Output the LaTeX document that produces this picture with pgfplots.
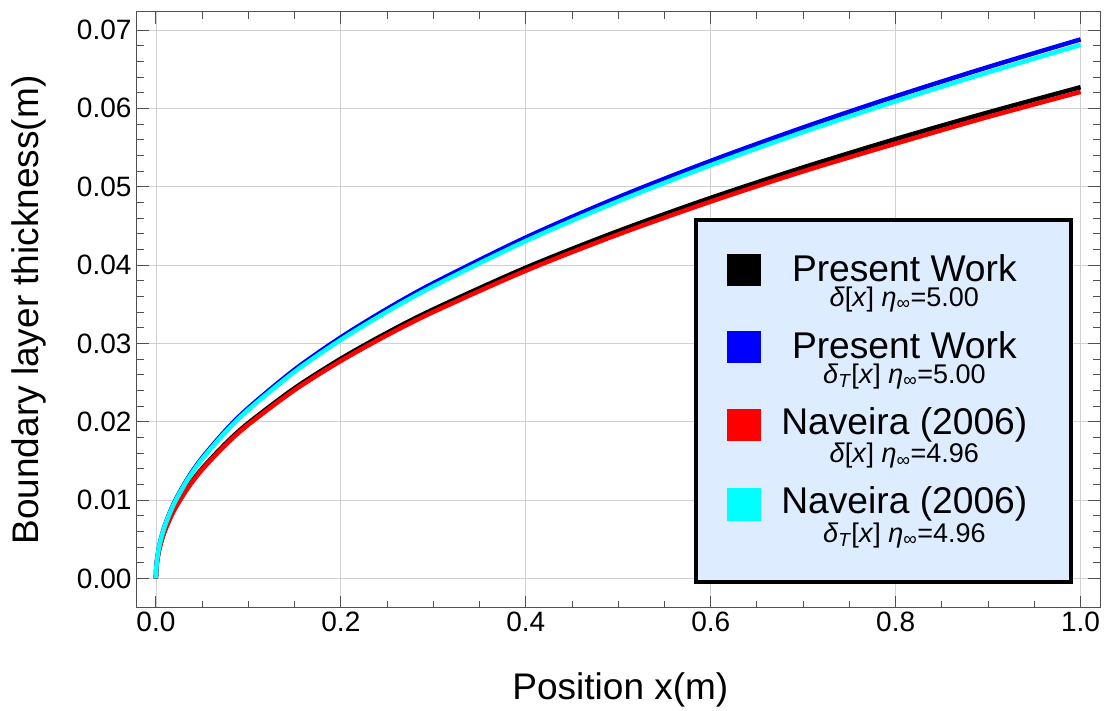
\documentclass[border=0pt]{standalone}
\usepackage{pgfplots}
\pgfplotsset{compat=1.18}
\usepackage{fontspec}
\setmainfont{Liberation Sans}
\definecolor{legbg}{RGB}{221,236,255}
\definecolor{gridc}{RGB}{208,208,208}
\definecolor{framec}{RGB}{80,80,80}
\definecolor{cyanc}{RGB}{0,255,255}
% legend entry: big title line plus small formula line
\newcommand{\entry}[3]{\parbox{272pt}{\centering\fontsize{37.2}{38}\selectfont #1\\
  \fontsize{27}{25}\selectfont #2[\textit{x}] \textit{η}\textsubscript{∞}=#3}}
\begin{document}
\begin{tikzpicture}
\begin{axis}[
  scale only axis, width=963pt, height=596pt,
  xmin=-0.0205, xmax=1.021, ymin=-0.00378, ymax=0.0723,
  xtick={0,0.2,0.4,0.6,0.8,1.0},
  ytick={0,0.01,0.02,0.03,0.04,0.05,0.06,0.07},
  minor x tick num=3, minor y tick num=4,
  major tick length=12pt, minor tick length=7pt,
  tick align=inside,
  scaled y ticks=false, scaled x ticks=false,
  grid=major, major grid style={gridc, line width=0.8pt},
  axis line style={framec, line width=1pt},
  tick style={framec, line width=1pt},
  /pgf/number format/assume math mode=true,
  xticklabel style={/pgf/number format/.cd, fixed, fixed zerofill, precision=1},
  yticklabel style={xshift=-2pt, /pgf/number format/.cd, fixed, fixed zerofill, precision=2},
  tick label style={font=\fontsize{28}{30}\selectfont},
  xlabel={Position x(m)}, ylabel={Boundary layer thickness(m)},
  label style={font=\fontsize{37}{40}\selectfont},
  xlabel style={at={(axis description cs:0.502,-0.138)}, anchor=center},
  ylabel style={at={(axis description cs:-0.112,0.5)}, anchor=center},
  legend image code/.code={\path (0pt,-27pt); \fill[#1] (0pt,-1pt) rectangle (30pt,27pt);},
  legend cell align=center,
  legend style={at={(0.972,0.0407)}, anchor=south east, fill=legbg,
    draw=black, line width=4pt, inner xsep=30.7pt, inner ysep=34pt,
    row sep=18.5pt, column sep=7pt,
    nodes={inner sep=0pt, text depth=, line width=0.4pt}},
  every axis plot/.append style={line width=4.5pt, smooth},
]
\addplot[black] coordinates {
(0,0) (0.0002,0.00089) (0.001,0.00198) (0.0025,0.00314) (0.005,0.00443)
(0.01,0.00627) (0.02,0.00887) (0.035,0.01173) (0.05,0.01402) (0.075,0.01717)
(0.1,0.01983) (0.15,0.02428) (0.2,0.02804) (0.25,0.03135) (0.3,0.03434)
(0.4,0.03966) (0.5,0.04434) (0.6,0.04857) (0.7,0.05246) (0.8,0.05608)
(0.9,0.05948) (1.0,0.0627)};
\addlegendentry{\entry{Present Work}{\textit{δ}}{5.00}}
\addplot[blue] coordinates {
(0,0) (0.0002,0.00097) (0.001,0.00218) (0.0025,0.00344) (0.005,0.00486)
(0.01,0.00688) (0.02,0.00973) (0.035,0.01287) (0.05,0.01538) (0.075,0.01884)
(0.1,0.02176) (0.15,0.02665) (0.2,0.03077) (0.25,0.0344) (0.3,0.03768)
(0.4,0.04351) (0.5,0.04865) (0.6,0.05329) (0.7,0.05756) (0.8,0.06154)
(0.9,0.06527) (1.0,0.0688)};
\addlegendentry{\entry{Present Work}{\textit{δ}\textsubscript{\textit{T}}}{5.00}}
\addplot[red] coordinates {
(0,0) (0.0002,0.00088) (0.001,0.00196) (0.0025,0.00311) (0.005,0.00439)
(0.01,0.00621) (0.02,0.00878) (0.035,0.01162) (0.05,0.01389) (0.075,0.01701)
(0.1,0.01964) (0.15,0.02405) (0.2,0.02777) (0.25,0.03105) (0.3,0.03401)
(0.4,0.03928) (0.5,0.04391) (0.6,0.0481) (0.7,0.05196) (0.8,0.0555)
(0.9,0.05891) (1.0,0.0621)};
\addlegendentry{\entry{Naveira (2006)}{\textit{δ}}{4.96}}
\addplot[cyanc] coordinates {
(0,0) (0.0002,0.00096) (0.001,0.00215) (0.0025,0.00341) (0.005,0.00482)
(0.01,0.00681) (0.02,0.00963) (0.035,0.01274) (0.05,0.01523) (0.075,0.01865)
(0.1,0.02154) (0.15,0.02638) (0.2,0.03046) (0.25,0.03405) (0.3,0.0373)
(0.4,0.04307) (0.5,0.04815) (0.6,0.05275) (0.7,0.05698) (0.8,0.06091)
(0.9,0.0646) (1.0,0.0681)};
\addlegendentry{\entry{Naveira (2006)}{\textit{δ}\textsubscript{\textit{T}}}{4.96}}
\end{axis}
\pgfresetboundingbox
\path (current axis.south west) ++(-137pt,-103pt) coordinate (bbA);
\path (current axis.north east) ++(6pt,12pt) coordinate (bbB);
\useasboundingbox (bbA) rectangle (bbB);
\end{tikzpicture}
\end{document}
